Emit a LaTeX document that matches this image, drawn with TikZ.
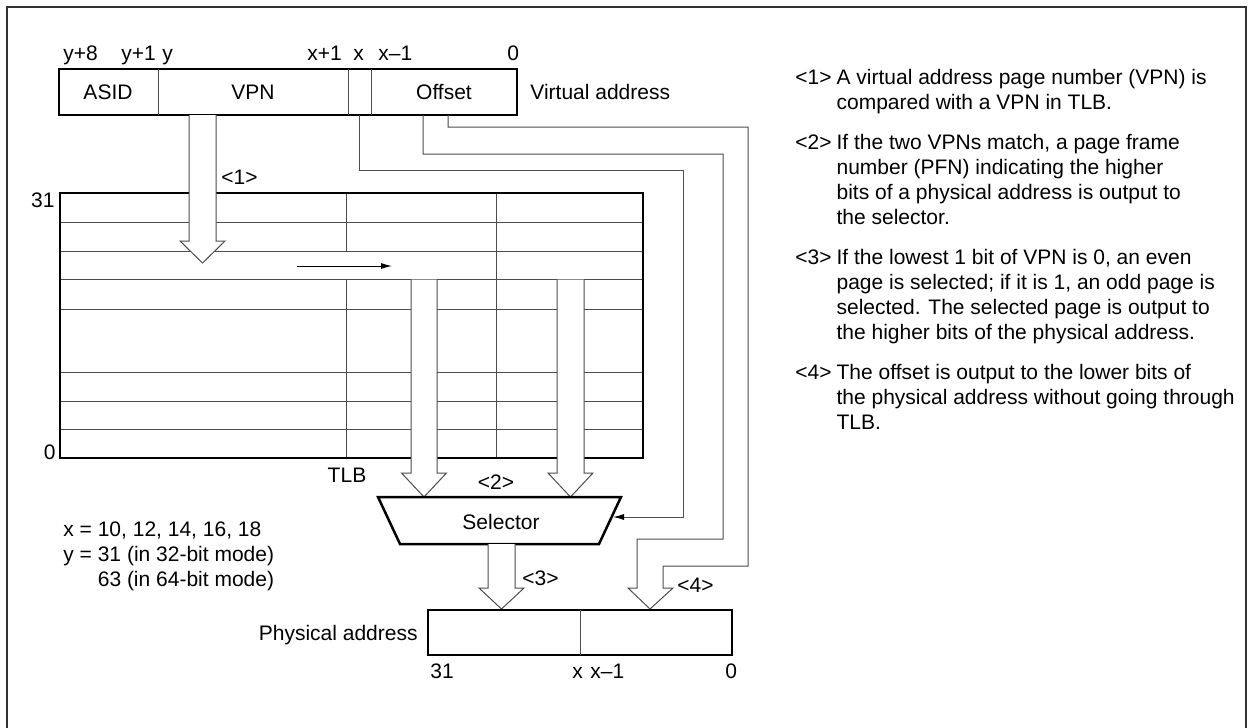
\documentclass[tikz,border=0pt]{standalone}
\usepackage{fontspec}
\setmainfont{Liberation Sans}
\usetikzlibrary{arrows.meta,positioning}
\newcommand\figfont{\fontsize{10.5}{12.5}\selectfont}
\tikzset{
  tlb/outline/.style={draw, line width=1.25pt},
  tlb/divider/.style={draw=black!70, line width=0.5pt},
  tlb/wire/.style={draw=black!70, line width=0.5pt},
  tlb/hollow/.style={draw=black!70, line width=0.5pt, fill=white},
  tlb/frame/.style={draw=black!80, line width=0.7pt},
  tlb/text/.style={font=\figfont, inner sep=0pt},
  tlb/bitno/.style={tlb/text, anchor=base west},
  tlb/tip/.style={-{Latex[length=5.5pt,width=3pt,color=black]}}
}
% centre x, top y, head y, tip y, half shaft width
\newcommand\fatarrow[5]{%
  \path[tlb/hollow] ({#1-#5},#2) -- ({#1-#5},#3) -- ({#1-22.5},#3)
    -- (#1,#4) -- ({#1+22.5},#3) -- ({#1+#5},#3) -- ({#1+#5},#2);}

\begin{document}
\begin{tikzpicture}[x=0.5pt, y=-0.5pt]
  \useasboundingbox (0,0) rectangle (1253,728);
  \draw[tlb/frame] (7,728) |- (1246,7) -- (1246,728);

  % virtual address
  \draw[tlb/outline] (59,69) rectangle (517,115);
  \draw[tlb/divider] foreach \x in {158,348,371} {(\x,69) -- (\x,115)};
  \node[tlb/text] (asid) at (108,92) {ASID};
  \node[tlb/text] (vpn) at (253,92) {VPN};
  \node[tlb/text] (offset) at (444,92) {Offset};
  \node[tlb/text, anchor=west] (valbl) at (530,92) {Virtual address};
  \node[tlb/bitno] (vy8) at (63,60) {y+8};
  \node[tlb/bitno] (vy1) at (121,60) {y+1};
  \node[tlb/bitno] (vy) at (162,60) {y};
  \node[tlb/bitno] (vx1) at (307,60) {x+1};
  \node[tlb/bitno] (vx) at (353,60) {x};
  \node[tlb/bitno] (vxm) at (378,60) {x\textendash1};
  \node[tlb/bitno] (v0) at (507,60) {0};
  \coordinate (bitx) at (359,115);
  \coordinate (offa) at (423,115);
  \coordinate (offb) at (448,115);

  % TLB
  \draw[tlb/divider] foreach \r in {222,251,279,309,372,401,429} {(60,\r) -- (643,\r)};
  \draw[tlb/divider] (346,193) -- (346,251) (346,279) -- (346,458) (496,193) -- (496,458);
  \draw[tlb/outline] (60,193) rectangle (643,458);
  \node[tlb/text, anchor=east] (t31) at (55,200) {31};
  \node[tlb/text, anchor=east] (t0) at (56,452) {0};
  \node[tlb/text] (tlblbl) at (347,475) {TLB};
  \coordinate (match) at (297,266);
  \coordinate (pfn) at (392,266);
  \draw[tlb/tip, line width=0.5pt] (match) -- (pfn);

  \fatarrow{202.5}{115}{241}{263}{13.5}
  \node[tlb/text, anchor=west] (s1) at (221,177) {<1>};
  \fatarrow{424}{279.5}{473}{497}{13}
  \fatarrow{570.5}{279.5}{473}{497}{13.5}
  \node[tlb/text] (s2) at (496,482) {<2>};

  % selector
  \draw[tlb/outline] (378,497) -- (621,497) -- (599,544) -- (400,544) -- cycle;
  \node[tlb/text] (sel) at (501,522) {Selector};
  \coordinate (selR) at (613,517);
  \draw[tlb/wire, tlb/tip] (bitx) |- (683,170) |- (selR);

  \fatarrow{501.5}{544}{588}{609}{13.5}
  \node[tlb/text, anchor=west] (s3) at (522,578) {<3>};

  % offset bits
  \draw[tlb/wire] (offa) |- (723,154) |- (637,539) -- (637,588) -- (628,588)
    -- (650,609) -- (673,588) -- (663,588) |- (748,566) -- (748,127) -| (offb);
  \node[tlb/text, anchor=west] (s4) at (677,585) {<4>};

  % physical address
  \draw[tlb/outline] (428,610) rectangle (732,655);
  \draw[tlb/divider] (580,610) -- (580,655);
  \node[tlb/text, anchor=east] (palbl) at (418,635) {Physical address};
  \node[tlb/bitno] (p31) at (430,678) {31};
  \node[tlb/bitno] (px) at (572,678) {x};
  \node[tlb/bitno] (pxm) at (590,678) {x\textendash1};
  \node[tlb/bitno] (p0) at (725,678) {0};

  % notes
  \node[tlb/text, anchor=north west] (xynote) at (63,518.5) {%
    \begin{tabular}{@{}l@{}}
      x = 10, 12, 14, 16, 18\\
      y = 31 (in 32-bit mode)\\
      \hphantom{y = }63 (in 64-bit mode)
    \end{tabular}};
  \node[tlb/text, anchor=north west] (steps) at (795,66.5) {%
    \begin{tabular}{@{}l@{\hspace{2.5pt}}l@{}}
      <1> & A virtual address page number (VPN) is\\
          & compared with a VPN in TLB.\\[7.5pt]
      <2> & If the two VPNs match, a page frame\\
          & number (PFN) indicating the higher\\
          & bits of a physical address is output to\\
          & the selector.\\[7.5pt]
      <3> & If the lowest 1 bit of VPN is 0, an even\\
          & page is selected; if it is 1, an odd page is\\
          & selected. The selected page is output to\\
          & the higher bits of the physical address.\\[7.5pt]
      <4> & The offset is output to the lower bits of\\
          & the physical address without going through\\
          & TLB.
    \end{tabular}};
\end{tikzpicture}
\end{document}
